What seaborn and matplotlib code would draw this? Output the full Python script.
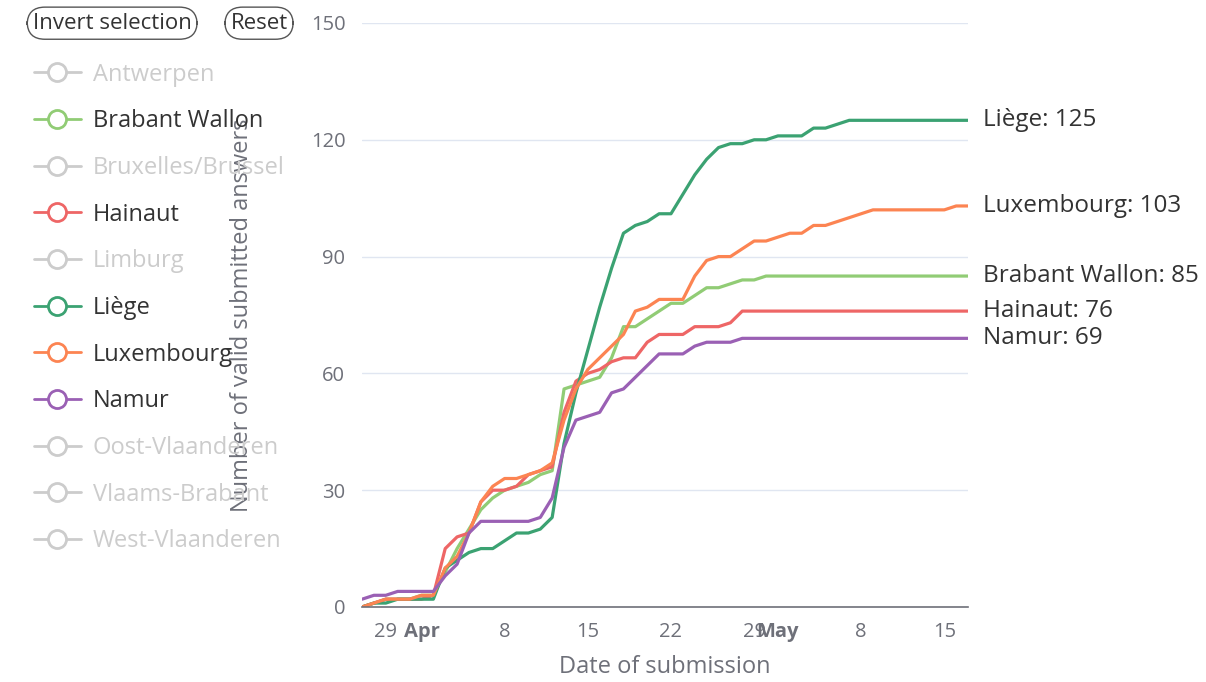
import pandas as pd
import matplotlib.pyplot as plt
import seaborn as sns
from matplotlib.lines import Line2D

# Données : nombre cumulé de réponses valides par province (une valeur par jour)
dates = pd.date_range("2020-03-27", "2020-05-17", freq="D")

provinces = ["Antwerpen", "Brabant Wallon", "Bruxelles/Brussel", "Hainaut", "Limburg",
             "Liège", "Luxembourg", "Namur", "Oost-Vlaanderen", "Vlaams-Brabant",
             "West-Vlaanderen"]
active = ["Brabant Wallon", "Hainaut", "Liège", "Luxembourg", "Namur"]

brabant_wallon = [0, 1, 2, 2, 2, 3, 3, 9, 15, 20,
                  25, 28, 30, 31, 32, 34, 35, 56, 57, 58,
                  59, 64, 72, 72, 74, 76, 78, 78, 80, 82,
                  82, 83, 84, 84, 85, 85, 85, 85, 85, 85,
                  85, 85, 85, 85, 85, 85, 85, 85, 85, 85, 85, 85]
hainaut = [0, 1, 2, 2, 2, 2, 3, 15, 18, 19,
           27, 30, 30, 31, 34, 35, 36, 50, 58, 60,
           61, 63, 64, 64, 68, 70, 70, 70, 72, 72,
           72, 73, 76, 76, 76, 76, 76, 76, 76, 76,
           76, 76, 76, 76, 76, 76, 76, 76, 76, 76, 76, 76]
liege = [0, 1, 1, 2, 2, 2, 2, 10, 12, 14,
         15, 15, 17, 19, 19, 20, 23, 42, 55, 66,
         77, 87, 96, 98, 99, 101, 101, 106, 111, 115,
         118, 119, 119, 120, 120, 121, 121, 121, 123, 123,
         124, 125, 125, 125, 125, 125, 125, 125, 125, 125, 125, 125]
luxembourg = [0, 1, 2, 2, 2, 3, 3, 10, 13, 19,
              27, 31, 33, 33, 34, 35, 37, 48, 56, 61,
              64, 67, 70, 76, 77, 79, 79, 79, 85, 89,
              90, 90, 92, 94, 94, 95, 96, 96, 98, 98,
              99, 100, 101, 102, 102, 102, 102, 102, 102, 102, 103, 103]
namur = [2, 3, 3, 4, 4, 4, 4, 8, 11, 19,
         22, 22, 22, 22, 22, 23, 28, 41, 48, 49,
         50, 55, 56, 59, 62, 65, 65, 65, 67, 68,
         68, 68, 69, 69, 69, 69, 69, 69, 69, 69,
         69, 69, 69, 69, 69, 69, 69, 69, 69, 69, 69, 69]

series = {"Brabant Wallon": brabant_wallon, "Hainaut": hainaut, "Liège": liege,
          "Luxembourg": luxembourg, "Namur": namur}
colors = {"Brabant Wallon": "#91cc75", "Hainaut": "#ee6666", "Liège": "#3ba272",
          "Luxembourg": "#fc8452", "Namur": "#9a60b4"}

tick_dates = pd.to_datetime(["2020-03-29", "2020-04-01", "2020-04-08", "2020-04-15",
                             "2020-04-22", "2020-04-29", "2020-05-01", "2020-05-08",
                             "2020-05-15"])
tick_labels = ["29", "Apr", "8", "15", "22", "29", "May", "8", "15"]
y_ticks = [0, 30, 60, 90, 120, 150]

df = pd.DataFrame(series)
df["date"] = dates
df = df.melt(id_vars="date", var_name="province", value_name="count")

sns.set_theme(style="white")
plt.rcParams["font.family"] = ["Open Sans", "DejaVu Sans"]

axis_gray = "#6e7079"
fig = plt.figure(figsize=(12.06, 6.82), dpi=100)
ax = fig.add_axes([0.3002, 0.110, 0.5025, 0.8563])

sns.lineplot(data=df, x="date", y="count", hue="province", hue_order=active,
             palette=colors, linewidth=2.3, legend=False, ax=ax)

ax.set_xlim(dates[0], dates[-1])
ax.set_ylim(0, 150)
ax.set_yticks(y_ticks)
ax.grid(axis="y", color="#e0e6f1", linewidth=1)
ax.set_axisbelow(True)
for s in ["left", "right", "top"]:
    ax.spines[s].set_visible(False)
ax.spines["bottom"].set_color(axis_gray)
ax.spines["bottom"].set_linewidth(1.2)

ax.set_xticks(tick_dates)
ax.set_xticklabels(tick_labels)
for lab in ax.get_xticklabels():
    if lab.get_text() in ("Apr", "May"):
        lab.set_fontweight("bold")
ax.tick_params(axis="x", colors=axis_gray, labelsize=14.5, length=5, width=1.2, pad=6)
ax.tick_params(axis="y", colors=axis_gray, labelsize=14.5, length=0, pad=12)

ax.set_xlabel("Date of submission", fontsize=17, color=axis_gray)
ax.set_ylabel("Number of valid submitted answers", fontsize=17, color=axis_gray)
ax.xaxis.set_label_coords(0.5, -0.082)
ax.yaxis.set_label_coords(-0.178, 0.5)

# étiquettes en bout de ligne
for name in active:
    val = series[name][-1]
    ax.annotate(f"{name}: {val}", xy=(dates[-1], val), xytext=(11, 0),
                textcoords="offset points", va="center", ha="left",
                fontsize=17.5, color="#333333", annotation_clip=False)

# légende (provinces inactives en gris)
handles = []
for p in provinces:
    c = colors.get(p, "#cccccc")
    handles.append(Line2D([], [], color=c, lw=2, marker="o", markersize=13,
                          markerfacecolor="white", markeredgecolor=c, markeredgewidth=2))
leg = fig.legend(handles, provinces, loc="upper left", bbox_to_anchor=(0.028, 0.908),
                 frameon=False, fontsize=17, handlelength=2.0, handletextpad=0.5,
                 labelspacing=0.96, borderpad=0, borderaxespad=0)
for txt, p in zip(leg.get_texts(), provinces):
    txt.set_color("#333333" if p in active else "#cccccc")

# boutons
btn = dict(boxstyle="round,pad=0.25,rounding_size=0.8", fc="white", ec="#555555", lw=1)
fig.text(0.093, 0.966, "Invert selection", fontsize=16, color="#333333",
         ha="center", va="center", bbox=btn)
fig.text(0.2148, 0.966, "Reset", fontsize=16, color="#333333",
         ha="center", va="center", bbox=btn)

fig.savefig("out.png", dpi=100)
